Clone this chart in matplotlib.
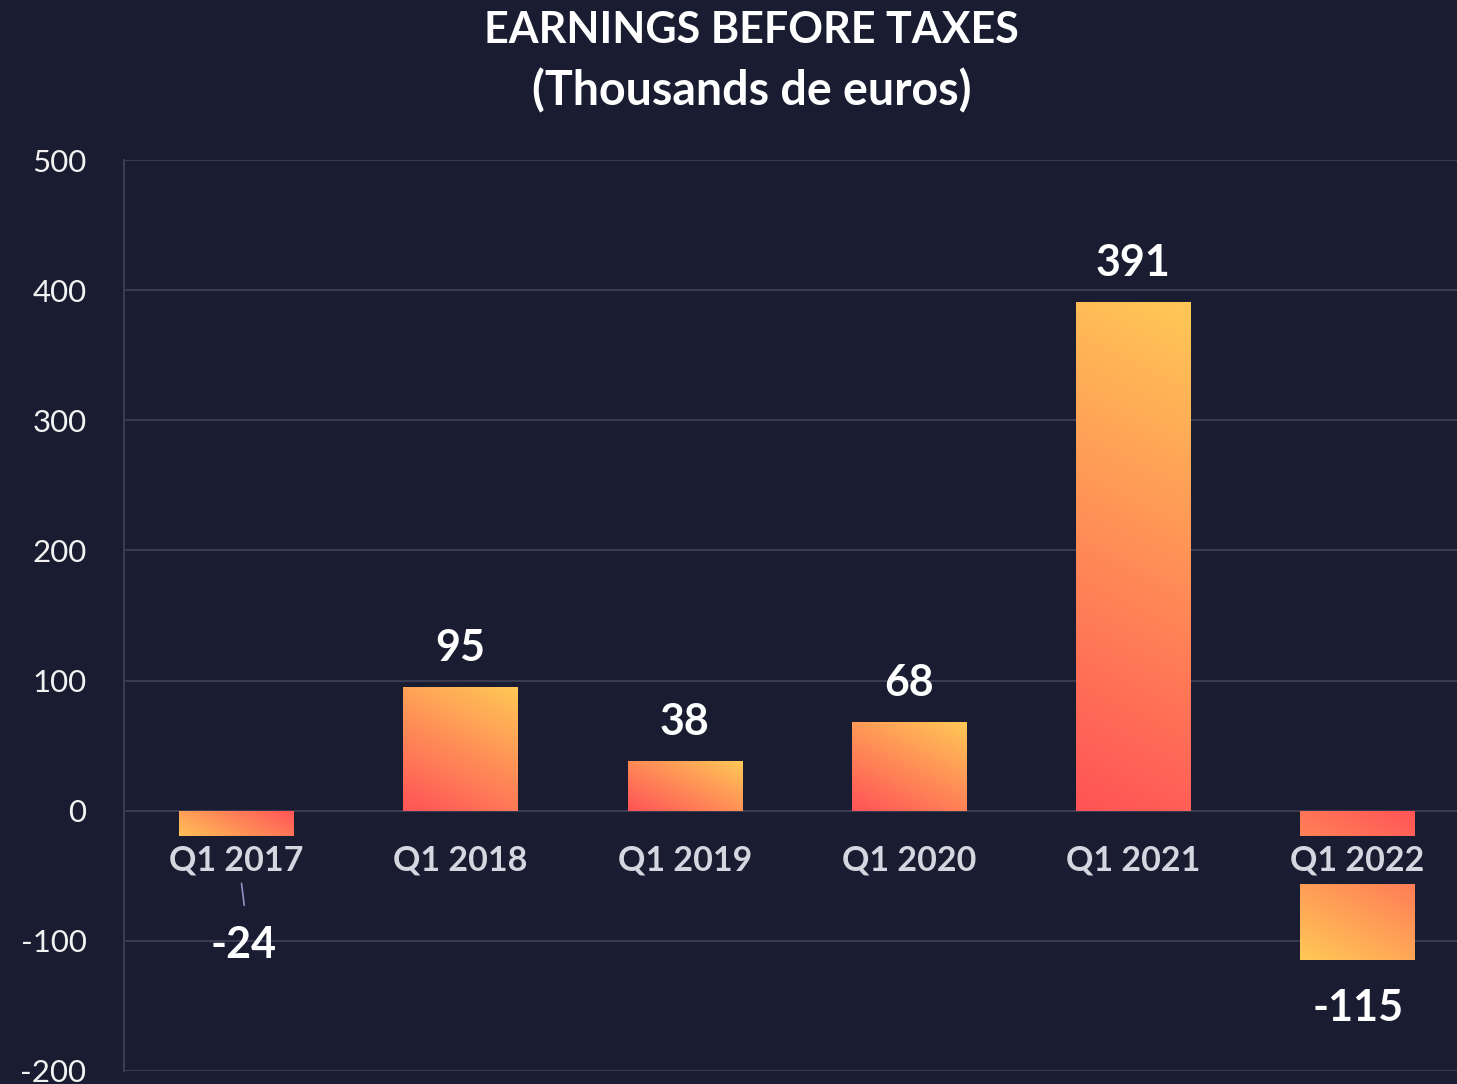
import numpy as np
import matplotlib
matplotlib.use("Agg")
import matplotlib.pyplot as plt
from matplotlib.colors import to_rgb

# data
categories = ["Q1 2017", "Q1 2018", "Q1 2019", "Q1 2020", "Q1 2021", "Q1 2022"]
values = [-24, 95, 38, 68, 391, -115]
y_ticks = [-200, -100, 0, 100, 200, 300, 400, 500]

# style
bg = "#1a1d31"
grid_c = "#3a3b50"
yellow = np.array(to_rgb("#ffc857"))
red = np.array(to_rgb("#ff5356"))
plt.rcParams["font.family"] = ["Lato", "DejaVu Sans"]

fig = plt.figure(figsize=(14.57, 10.84), dpi=100, facecolor=bg)
ax = fig.add_axes([124 / 1457, 13 / 1084, 1 - 124 / 1457, (1071 - 160) / 1084])
ax.set_facecolor(bg)

x = np.arange(len(categories))
ax.set_xlim(-0.5, 5.443)
ax.set_ylim(-200, 500)

bars = ax.bar(x, values, width=0.51, color="none", zorder=2)

# gradient fill for every bar (red near zero, yellow at the far end)
a, b = 1.0, 2.0
n = 200
u = np.linspace(0, 1, n)
s = np.linspace(0, 1, n)
U, S = np.meshgrid(u, s)
for bar, v in zip(bars, values):
    x0 = bar.get_x()
    w = bar.get_width()
    p0 = ax.transData.transform((x0, 0))
    p1 = ax.transData.transform((x0 + w, v))
    wpx, hpx = abs(p1[0] - p0[0]), abs(p1[1] - p0[1])
    uu = U if v >= 0 else 1 - U
    t = (a * uu * wpx + b * S * hpx) / (a * wpx + b * hpx)
    img = red[None, None, :] * (1 - t[..., None]) + yellow[None, None, :] * t[..., None]
    if v >= 0:
        extent = (x0, x0 + w, 0, v)
        origin = "lower"
    else:
        extent = (x0, x0 + w, v, 0)
        origin = "upper"
    im = ax.imshow(img, extent=extent, origin=origin, aspect="auto",
                   interpolation="bilinear", zorder=2)
    im.set_clip_path(bar)

ax.set_xlim(-0.5, 5.443)
ax.set_ylim(-200, 500)

# category labels inside the plot, with a backdrop hiding the bars
label_y = -38
ax.bar(x, 36.5, bottom=label_y - 18.3, width=0.62, color=bg, zorder=3)
for xi, cat in zip(x, categories):
    ax.text(xi, label_y, cat, ha="center", va="center", fontsize=24.5,
            fontweight="bold", color="#d6d6e0", zorder=4)

# value labels
for xi, v in zip(x, values):
    if v >= 0:
        ax.annotate(str(v), (xi, v), xytext=(0, 28), textcoords="offset points",
                    ha="center", va="center", fontsize=31, fontweight="bold",
                    color="white", zorder=5)
    elif v > -50:
        ax.annotate(str(v), (xi, v), xytext=(5, -74), textcoords="offset points",
                    ha="center", va="center", fontsize=31, fontweight="bold",
                    color="white", zorder=5)
        ax.plot([xi + 0.024, xi + 0.036], [v - 32, v - 48.5], color="#8c93c4",
                lw=1.2, zorder=5)
    else:
        ax.annotate(str(v), (xi, v), xytext=(0, -34), textcoords="offset points",
                    ha="center", va="center", fontsize=31, fontweight="bold",
                    color="white", zorder=5)

# axes styling
ax.set_yticks(y_ticks)
ax.set_yticklabels([str(t) for t in y_ticks])
ax.set_xticks([])
ax.tick_params(axis="y", length=0, pad=27, labelsize=22.5, labelcolor="#f2f2f2")
ax.grid(axis="y", color=grid_c, lw=1.5, zorder=0)
ax.set_axisbelow(True)
for side in ["top", "right", "bottom"]:
    ax.spines[side].set_visible(False)
ax.spines["left"].set_color(grid_c)
ax.spines["left"].set_linewidth(1.5)

# title
fig.text(751.5 / 1457, 1 - 30 / 1084, "EARNINGS BEFORE TAXES", ha="center", va="center",
         fontsize=31, fontweight="bold", color="white")
fig.text(751.5 / 1457, 1 - 91 / 1084, "(Thousands de euros)", ha="center", va="center",
         fontsize=33.5, fontweight="bold", color="white")

fig.savefig("out.png", dpi=100, facecolor=bg)
